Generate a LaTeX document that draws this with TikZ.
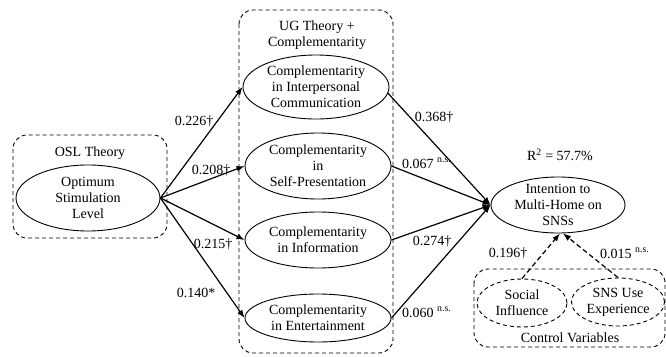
\documentclass[tikz,border=0pt]{standalone}
\usepackage{fontspec}
\setmainfont{Liberation Serif}
\usetikzlibrary{shapes.geometric,arrows.meta}
\begin{document}
\begin{tikzpicture}[x=1pt,y=-1pt,
  every node/.style={font=\fontsize{14}{16}\selectfont},
  lv/.style={ellipse,draw,line width=0.9pt,align=center,inner sep=0pt,inner ysep=-8pt},
  cv/.style={lv,dash pattern=on 4pt off 3pt},
  grp/.style={draw,line width=0.9pt,dash pattern=on 4pt off 3pt,rounded corners=14pt},
  arr/.style={line width=1.2pt,-{Latex[length=8pt,width=6pt]}},
  darr/.style={arr,dash pattern=on 5pt off 3pt},
  lbl/.style={inner sep=0pt}
]
\useasboundingbox (0,0) rectangle (666,356);
% group boxes
\draw[grp] (13,135) rectangle (167,238);
\draw[grp] (239,10) rectangle (393,353);
\draw[grp] (474,269) rectangle (665,347);
\node[lbl] (oslt) at (90,153) {OSL Theory};
\node[lbl,align=center] (ugt) at (317,35) {UG Theory +\\Complementarity};
\node[lbl] (cvt) at (570,338) {Control Variables};
% latent variables
\node[lv,minimum width=144pt,minimum height=66pt] (osl) at (88,198) {Optimum\\Stimulation\\Level};
\node[lv,minimum width=146pt,minimum height=64pt] (e1) at (316,87) {Complementarity\\in Interpersonal\\Communication};
\node[lv,minimum width=146pt,minimum height=66pt] (e2) at (318,166) {Complementarity\\in\\Self-Presentation};
\node[lv,minimum width=146pt,minimum height=56pt] (e3) at (318,240) {Complementarity\\in Information};
\node[lv,minimum width=146pt,minimum height=48pt] (e4) at (318,318) {Complementarity\\in Entertainment};
\node[lv,minimum width=134pt,minimum height=56pt] (t) at (558,205) {Intention to\\Multi-Home on\\SNSs};
\node[cv,minimum width=90pt,minimum height=48pt] (si) at (522,303) {Social\\Influence};
\node[cv,minimum width=93pt,minimum height=48pt] (sns) at (618,302) {SNS Use\\Experience};
\node[lbl] (r2) at (560,155) {R\textsuperscript{2} = 57.7\%};
% paths
\draw[arr] (osl.east) -- (e1.west);
\draw[arr] (osl.east) -- (e2.west);
\draw[arr] (osl.east) -- (e3.west);
\draw[arr] (osl.east) -- (e4.west);
\draw[arr] (e1.-5) -- (t.west);
\draw[arr] (e2.east) -- (t.west);
\draw[arr] (e3.east) -- (t.west);
\draw[arr] (e4.east) -- (t.west);
\draw[darr] (si.north) -- (t.-86);
\draw[darr] (sns.north) -- (t.-80);
% coefficients
\node[lbl] (c1) at (194,121) {0.226†};
\node[lbl] (c2) at (211,170) {0.208†};
\node[lbl] (c3) at (213,244) {0.215†};
\node[lbl] (c4) at (196,293) {0.140*};
\node[lbl] (c5) at (434,117) {0.368†};
\node[lbl,anchor=base west] (c6) at (402,168) {0.067 \textsuperscript{n.s.}};
\node[lbl] (c7) at (432,241) {0.274†};
\node[lbl,anchor=base west] (c8) at (402,317) {0.060 \textsuperscript{n.s.}};
\node[lbl] (c9) at (508,253) {0.196†};
\node[lbl,anchor=base west] (c10) at (600,258) {0.015 \textsuperscript{n.s.}};
\end{tikzpicture}
\end{document}
